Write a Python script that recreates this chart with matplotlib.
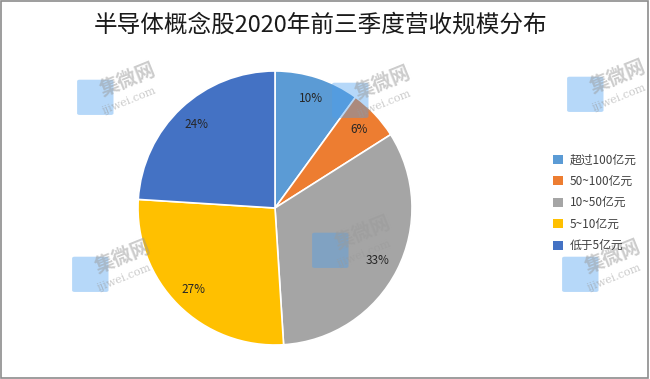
import matplotlib
matplotlib.use('Agg')
import matplotlib.pyplot as plt
from matplotlib.patches import Rectangle, FancyBboxPatch

plt.rcParams['font.family'] = ['Noto Sans CJK SC', 'DejaVu Sans']

labels = ['超过100亿元', '50~100亿元', '10~50亿元', '5~10亿元', '低于5亿元']
shares = [10, 6, 33, 27, 24]
colors = ['#5B9BD5', '#ED7D31', '#A5A5A5', '#FFC000', '#4472C4']
title = '半导体概念股2020年前三季度营收规模分布'

fig = plt.figure(figsize=(6.5, 3.79), dpi=100)
fig.patches.append(Rectangle((0.002, 0.003), 0.995, 0.994, transform=fig.transFigure,
                             fill=False, edgecolor='#8c8c8c', linewidth=1.2))

fig.text(0.493, 0.935, title, ha='center', va='center', fontsize=17, color='#1a1a1a')

# pie: center ~ (275, 208) px, radius ~ 137 px
ax = fig.add_axes([(275 - 140) / 650, (379 - 208 - 140) / 379, 280 / 650, 280 / 379])
wedges, texts, autotexts = ax.pie(shares, colors=colors, startangle=90, counterclock=False,
                                  autopct='%d%%', pctdistance=0.84, radius=137 / 140,
                                  wedgeprops=dict(edgecolor='white', linewidth=1.2),
                                  textprops=dict(fontsize=8.5, color='#262626'))
ax.set_xlim(-1, 1)
ax.set_ylim(-1, 1)
ax.set_aspect('equal')
ax.axis('off')

handles = [Rectangle((0, 0), 1, 1, facecolor=c, edgecolor='none') for c in colors]
fig.legend(handles, labels, loc='center left', bbox_to_anchor=(0.835, 0.465),
           frameon=False, fontsize=8.5, handlelength=0.8, handleheight=0.8,
           handletextpad=0.6, labelspacing=0.72, labelcolor='#404040')

# faint watermarks
marks = [(120, 85), (375, 88), (610, 82), (115, 262), (355, 238), (605, 262)]
for mx, my in marks:
    fx, fy = mx / 650, 1 - my / 379
    fig.patches.append(FancyBboxPatch((fx - 0.062, fy - 0.075), 0.048, 0.085,
                                      boxstyle='round,pad=0.004', transform=fig.transFigure,
                                      facecolor='#4a9ff0', edgecolor='none', alpha=0.4,
                                      zorder=5))
    fig.text(fx + 0.012, fy + 0.012, '集微网', fontsize=14, fontweight='bold', color='#9a9a9a',
             alpha=0.5, rotation=22, ha='center', va='center', zorder=5)
    fig.text(fx + 0.014, fy - 0.042, 'ijiwei.com', fontsize=8, color='#9a9a9a', alpha=0.5,
             rotation=22, ha='center', va='center', family='DejaVu Serif', zorder=5)

fig.savefig('out.png', dpi=100)
